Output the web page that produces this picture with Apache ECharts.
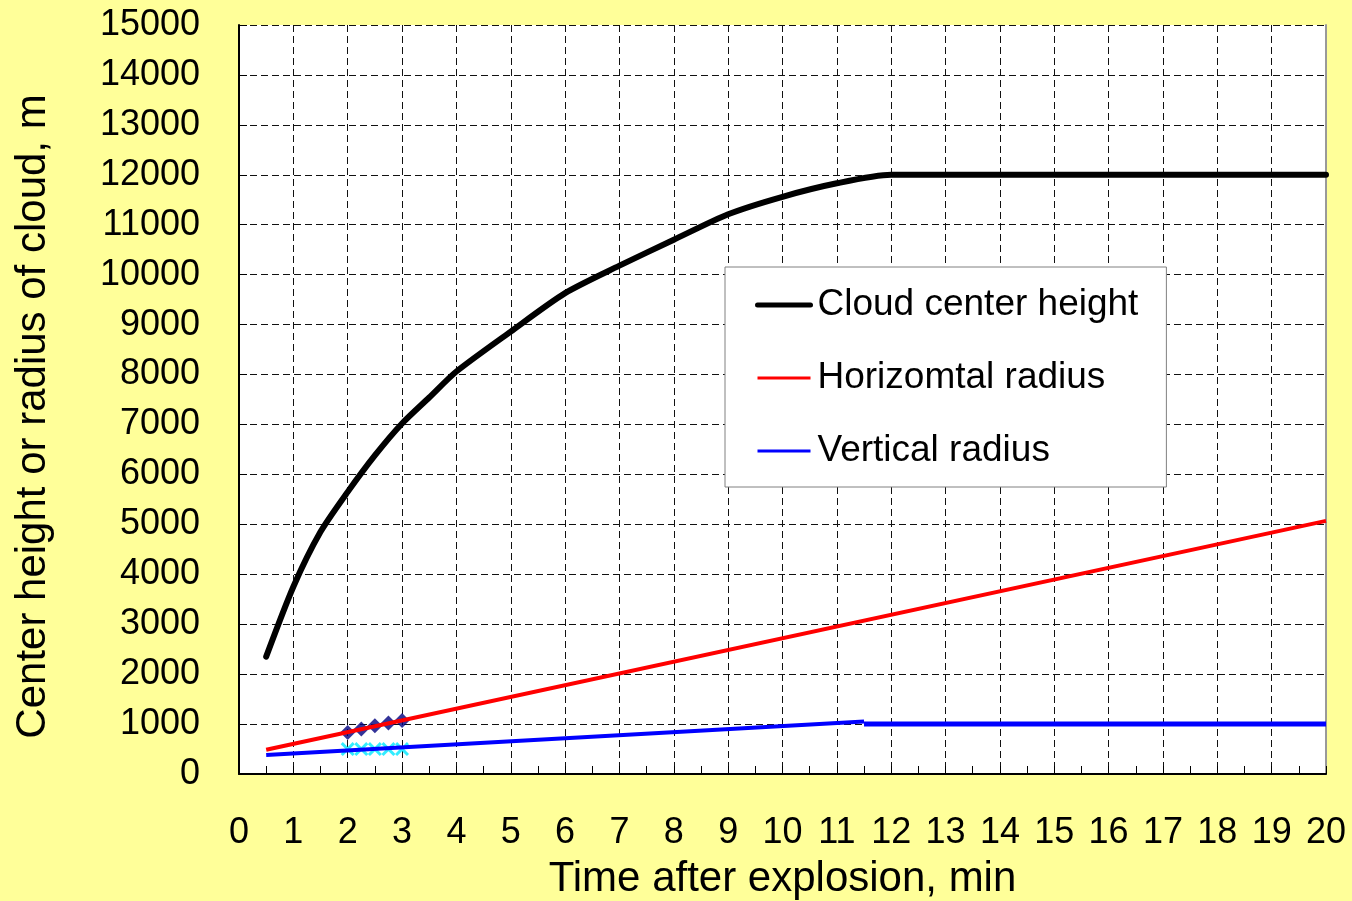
<!DOCTYPE html>
<html>
<head>
<meta charset="utf-8">
<title>Cloud center height and radius</title>
<script src="https://cdn.jsdelivr.net/npm/echarts@6/dist/echarts.min.js"></script>
<style>
  html, body { margin: 0; padding: 0; background: #FFFF99; }
  #chart { width: 1352px; height: 901px; }
</style>
</head>
<body>
<div id="chart"></div>
<script>
// Time after explosion (min) and cloud geometry (m)
const centerHeight = [
  [0.5, 2350], [1, 3750], [1.5, 4850], [2, 5650], [2.5, 6380], [3, 7020],
  [3.5, 7540], [4, 8060], [5, 8860], [6, 9630], [7, 10180], [8, 10700],
  [9, 11210], [10, 11560], [11, 11830], [12, 12000], [20, 12000]
];
const horizontalRadius = [[0.5, 485], [20, 5070]];
const verticalRadiusGrowth = [[0.5, 380], [11.5, 1050]];
const verticalRadiusSteady = [[11.5, 1000], [20, 1000]];
const measuredHorizontal = [[2, 832], [2.25, 900], [2.5, 966], [2.75, 1020], [3, 1073]];
const measuredVertical = [[2, 500], [2.25, 500], [2.5, 500], [2.75, 500], [3, 500]];

const seriesNames = ['Cloud center height', 'Horizomtal radius', 'Vertical radius'];
const xTitle = 'Time after explosion, min';
const yTitle = 'Center height or radius of cloud, m';

const FONT = '"Liberation Sans", Arial, sans-serif';
const crossPath = 'path://M0,1.5L1.5,0L5,3.5L8.5,0L10,1.5L6.5,5L10,8.5L8.5,10L5,6.5L1.5,10L0,8.5L3.5,5Z';

const chart = echarts.init(document.getElementById('chart'));
chart.setOption({
  backgroundColor: '#FFFF99',
  animation: false,
  textStyle: { fontFamily: FONT },
  grid: {
    left: 239, right: 26, top: 25, bottom: 127,
    outerBoundsMode: 'none',
    show: true, backgroundColor: '#ffffff', borderWidth: 0
  },
  legend: {
    data: [
      { name: seriesNames[0], lineStyle: { width: 5, color: '#000' } },
      { name: seriesNames[1], lineStyle: { width: 3, color: '#FF0000' } },
      { name: seriesNames[2], lineStyle: { width: 3, color: '#0000FF' } }
    ],
    orient: 'vertical',
    left: 725,
    top: 267,
    padding: [18, 28, 16, 30],
    itemGap: 33,
    itemWidth: 53,
    itemHeight: 14,
    backgroundColor: '#ffffff',
    borderColor: '#808080',
    borderWidth: 1,
    itemStyle: { opacity: 0 },
    textStyle: { fontSize: 37, color: '#000', fontFamily: FONT, lineHeight: 40, padding: [0, 0, 0, 2] }
  },
  xAxis: {
    type: 'value',
    min: 0, max: 20, interval: 1,
    name: xTitle,
    nameLocation: 'middle',
    nameGap: 84,
    nameTextStyle: { fontSize: 42, color: '#000', fontFamily: FONT },
    axisLine: { show: true, onZero: false, lineStyle: { color: '#000', width: 2 } },
    axisTick: { show: true, inside: true, length: 8, lineStyle: { color: '#000' } },
    minorTick: { show: true, splitNumber: 2, length: 8, lineStyle: { color: '#000' } },
    axisLabel: { fontSize: 36, color: '#000', margin: 41, fontFamily: FONT },
    splitLine: { show: true, lineStyle: { color: '#111', width: 1, type: [7, 4] } }
  },
  yAxis: [{
    type: 'value',
    min: 0, max: 15000, interval: 1000,
    name: yTitle,
    nameLocation: 'middle',
    nameGap: 185,
    nameTextStyle: { fontSize: 42, color: '#000', fontFamily: FONT, padding: [0, 34, 0, 0] },
    axisLine: { show: true, onZero: false, lineStyle: { color: '#000', width: 2 } },
    axisTick: { show: true, inside: true, length: 8, lineStyle: { color: '#000' } },
    axisLabel: { fontSize: 36, color: '#000', margin: 39, fontFamily: FONT, formatter: v => String(v) },
    splitLine: { show: true, lineStyle: { color: '#111', width: 1, type: [7, 4] } }
  }, {
    type: 'value',
    position: 'right',
    min: 0, max: 15000, interval: 1000,
    axisLine: { show: true, onZero: false, lineStyle: { color: '#999', width: 2 } },
    axisTick: { show: false },
    axisLabel: { show: false },
    splitLine: { show: false }
  }],
  series: [
    {
      name: 'measured horizontal',
      type: 'scatter',
      data: measuredHorizontal,
      symbol: 'diamond',
      symbolSize: 15,
      itemStyle: { color: '#000080' },
      z: 1
    },
    {
      name: 'measured vertical',
      type: 'scatter',
      data: measuredVertical,
      symbol: crossPath,
      symbolSize: 14,
      itemStyle: { color: '#00E8FF' },
      z: 1
    },
    {
      name: seriesNames[0],
      type: 'line',
      data: centerHeight,
      symbol: 'none',
      smooth: 0.25,
      lineStyle: { color: '#000', width: 6, cap: 'round', join: 'round' },
      itemStyle: { color: '#000' },
      z: 4
    },
    {
      name: seriesNames[1],
      type: 'line',
      data: horizontalRadius,
      symbol: 'none',
      lineStyle: { color: '#FF0000', width: 4 },
      itemStyle: { color: '#FF0000' },
      z: 3
    },
    {
      name: seriesNames[2],
      type: 'line',
      data: verticalRadiusGrowth,
      symbol: 'none',
      lineStyle: { color: '#0000FF', width: 4 },
      itemStyle: { color: '#0000FF' },
      z: 3
    },
    {
      name: seriesNames[2],
      type: 'line',
      data: verticalRadiusSteady,
      symbol: 'none',
      lineStyle: { color: '#0000FF', width: 5 },
      itemStyle: { color: '#0000FF' },
      z: 3
    }
  ]
});
</script>
</body>
</html>
